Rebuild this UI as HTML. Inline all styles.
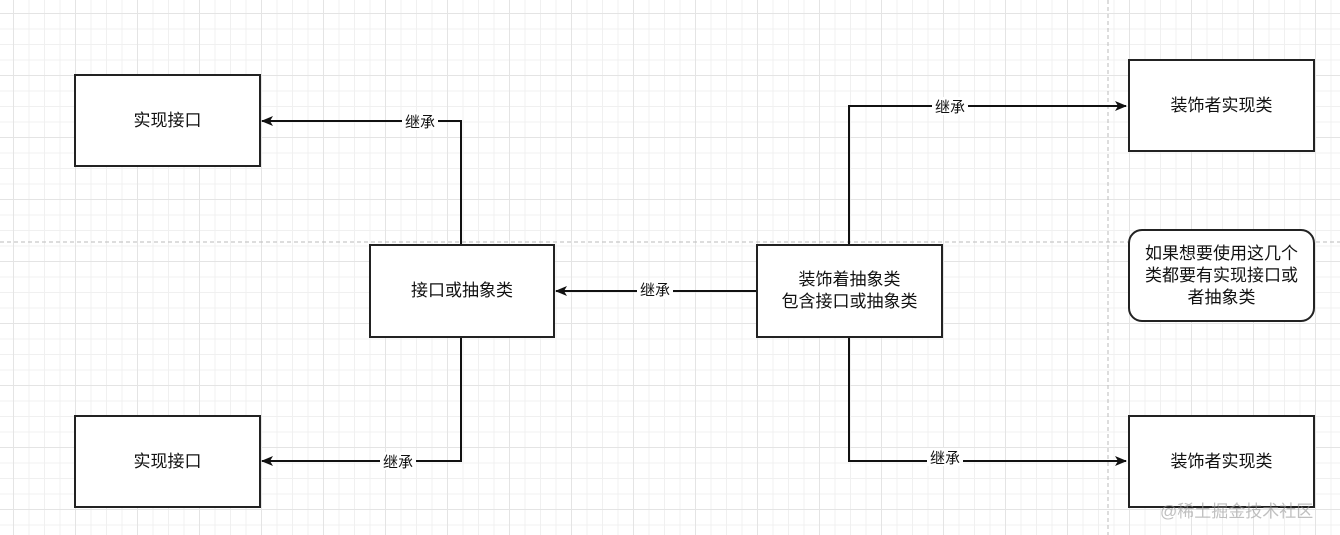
<!DOCTYPE html>
<html><head><meta charset="utf-8"><style>
body{margin:0;width:1340px;height:535px;overflow:hidden;background:#fff;
background-image:linear-gradient(#e4e4e4 1px,transparent 1px),linear-gradient(90deg,#e4e4e4 1px,transparent 1px),linear-gradient(#f0f0f0 1px,transparent 1px),linear-gradient(90deg,#f0f0f0 1px,transparent 1px);
background-size:62px 62px,62px 62px,15.5px 15.5px,15.5px 15.5px;background-position:13px 13px;
font-family:"Liberation Sans","Noto Sans CJK SC",sans-serif;position:relative}
.b{position:absolute;box-sizing:border-box;border:2px solid #222;background:#fff;display:flex;align-items:center;justify-content:center;text-align:center;font-size:17px;color:#111;line-height:22px}
</style></head><body>
<svg width="1340" height="535" style="position:absolute;left:0;top:0">
<defs><marker id="a" markerWidth="12" markerHeight="10" refX="11" refY="5" orient="auto" markerUnits="userSpaceOnUse"><path d="M0,0 L12,5 L0,10 L3,5z" fill="#111"/></marker></defs>
<line x1="0" y1="242" x2="1340" y2="242" stroke="#bbb" stroke-dasharray="4,3"/>
<line x1="1108" y1="0" x2="1108" y2="535" stroke="#bbb" stroke-dasharray="4,3"/>
<g stroke="#111" stroke-width="2" fill="none" marker-end="url(#a)">
<polyline points="461,244 461,121 262,121"/>
<polyline points="461,337 461,461 262,461"/>
<polyline points="756,291 556,291"/>
<polyline points="849,244 849,106 1126,106"/>
<polyline points="849,337 849,461 1126,461"/>
</g>
<g font-size="15" fill="#111" font-family="Liberation Sans,Noto Sans CJK SC,sans-serif" text-anchor="middle">
<rect x="402" y="112" width="36" height="18" fill="#fff"/><text x="420" y="127">继承</text>
<rect x="380" y="452" width="36" height="18" fill="#fff"/><text x="398" y="467">继承</text>
<rect x="637" y="281" width="36" height="18" fill="#fff"/><text x="655" y="295">继承</text>
<rect x="932" y="97" width="36" height="18" fill="#fff"/><text x="950" y="112">继承</text>
<rect x="927" y="448" width="36" height="18" fill="#fff"/><text x="945" y="463">继承</text>
</g>
</svg>
<div class="b" style="left:74px;top:74px;width:187px;height:93px">实现接口</div>
<div class="b" style="left:74px;top:415px;width:187px;height:93px">实现接口</div>
<div class="b" style="left:369px;top:244px;width:186px;height:94px">接口或抽象类</div>
<div class="b" style="left:756px;top:244px;width:187px;height:94px">装饰着抽象类<br>包含接口或抽象类</div>
<div class="b" style="left:1128px;top:59px;width:187px;height:93px">装饰者实现类</div>
<div class="b" style="left:1128px;top:415px;width:187px;height:93px">装饰者实现类</div>
<div class="b" style="left:1128px;top:229px;width:187px;height:93px;border-radius:14px;padding:0 8px">如果想要使用这几个类都要有实现接口或者抽象类</div>
<div style="position:absolute;left:1160px;top:497px;font-size:17px;color:rgba(150,150,150,0.6)">@稀土掘金技术社区</div>
</body></html>
